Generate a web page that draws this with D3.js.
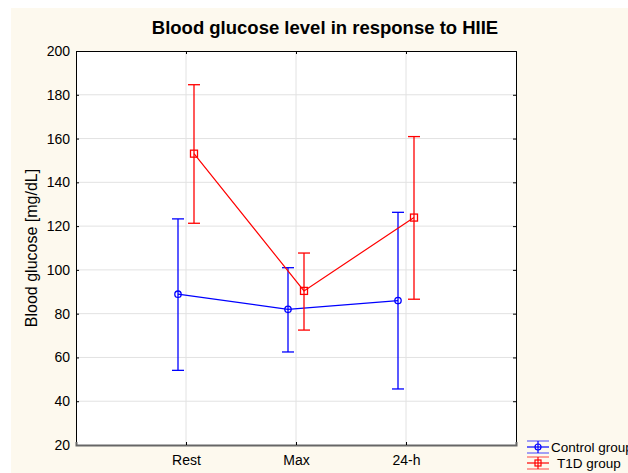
<!DOCTYPE html>
<html lang="en">
<head>
<meta charset="UTF-8">
<title>Blood glucose level in response to HIIE</title>
<script src="https://d3js.org/d3.v7.min.js"></script>
<style>
  body { margin: 0; background: #fff; }
  text { font-family: Arial, "Liberation Sans", sans-serif; fill: #000; }
</style>
</head>
<body>
<svg width="628" height="473"></svg>
<script>
// data
let categories = ["Rest", "Max", "24-h"]
let yTicks = [20, 40, 60, 80, 100, 120, 140, 160, 180, 200]

let controlMean = [88.9, 82.0, 86.0]
let controlLow = [54.1, 62.5, 45.6]
let controlHigh = [123.3, 101.0, 126.3]

let t1dMean = [153.1, 90.4, 123.9]
let t1dLow = [121.3, 72.5, 86.6]
let t1dHigh = [184.6, 107.7, 160.9]

let seriesNames = ["Control group", "T1D group"]

let svg = d3.select("svg")
let plotLeft = 76, plotRight = 516, plotTop = 51, plotBottom = 445

// cream page background
svg.append("rect").attr("x", 11).attr("y", 8).attr("width", 628).attr("height", 473).attr("fill", "#fdf9ee")
svg.append("rect").attr("x", plotLeft).attr("y", plotTop).attr("width", plotRight - plotLeft).attr("height", plotBottom - plotTop).attr("fill", "#fff")

let x = d3.scaleLinear().domain([0, 4]).range([plotLeft, plotRight])
let y = d3.scaleLinear().domain([20, 200]).range([plotBottom, plotTop])

// grid
let grid = svg.append("g").attr("stroke", "#e2e2e2").attr("stroke-width", 1)
grid.selectAll(".hg").data(yTicks.slice(1, -1)).enter().append("line")
    .attr("x1", plotLeft).attr("x2", plotRight)
    .attr("y1", d => y(d)).attr("y2", d => y(d))
grid.selectAll(".vg").data(categories).enter().append("line")
    .attr("x1", (d, i) => x(i + 1)).attr("x2", (d, i) => x(i + 1))
    .attr("y1", plotTop).attr("y2", plotBottom)

// axes
let yAxis = svg.append("g").attr("transform", `translate(${plotLeft},0)`)
    .call(d3.axisLeft(y).tickValues(yTicks).tickSize(-3).tickPadding(6))
let yAxisR = svg.append("g").attr("transform", `translate(${plotRight},0)`)
    .call(d3.axisRight(y).tickValues(yTicks).tickSize(-3).tickFormat(""))
let xAxis = svg.append("g").attr("transform", `translate(0,${plotBottom})`)
    .call(d3.axisBottom(x).tickValues([1, 2, 3]).tickSize(-3).tickPadding(10)
        .tickFormat(d => categories[d - 1]))
let xAxisT = svg.append("g").attr("transform", `translate(0,${plotTop})`)
    .call(d3.axisTop(x).tickValues([1, 2, 3]).tickSize(-3).tickFormat(""))
svg.selectAll(".tick text").style("font-size", "14px").style("font-family", "Arial, 'Liberation Sans', sans-serif")
svg.selectAll(".domain").attr("stroke", "#000")
xAxis.select(".domain").attr("stroke", "#666").attr("stroke-width", 2)

// series
function drawSeries(mean, low, high, color, dx, marker) {
    let g = svg.append("g")
    let pts = mean.map((m, i) => ({ x: x(i + 1) + dx, m: m, lo: low[i], hi: high[i] }))
    g.append("path").datum(pts)
        .attr("fill", "none").attr("stroke", color).attr("stroke-width", 1.2)
        .attr("d", d3.line().x(d => d.x).y(d => y(d.m)))
    let eb = g.selectAll(".eb").data(pts).enter().append("g").attr("stroke", color).attr("stroke-width", 1.3)
    eb.append("line").attr("x1", d => d.x).attr("x2", d => d.x).attr("y1", d => y(d.lo)).attr("y2", d => y(d.hi))
    eb.append("line").attr("x1", d => d.x - 6).attr("x2", d => d.x + 6).attr("y1", d => y(d.hi)).attr("y2", d => y(d.hi))
    eb.append("line").attr("x1", d => d.x - 6).attr("x2", d => d.x + 6).attr("y1", d => y(d.lo)).attr("y2", d => y(d.lo))
    if (marker == "circle") {
        g.selectAll(".mk").data(pts).enter().append("circle")
            .attr("cx", d => d.x).attr("cy", d => y(d.m)).attr("r", 3.2)
            .attr("fill", "none").attr("stroke", color).attr("stroke-width", 1.3)
    } else {
        g.selectAll(".mk").data(pts).enter().append("rect")
            .attr("x", d => d.x - 3.5).attr("y", d => y(d.m) - 3.5).attr("width", 7).attr("height", 7)
            .attr("fill", "none").attr("stroke", color).attr("stroke-width", 1.3)
    }
}
drawSeries(controlMean, controlLow, controlHigh, "#0000ff", -8, "circle")
drawSeries(t1dMean, t1dLow, t1dHigh, "#ff0000", 8, "square")

// title and y label
svg.append("text").attr("x", 325).attr("y", 34).attr("text-anchor", "middle")
    .style("font-size", "18.5px").style("font-weight", "bold").text("Blood glucose level in response to HIIE")
svg.append("text").attr("transform", `translate(37,${(plotTop + plotBottom) / 2}) rotate(-90)`)
    .attr("text-anchor", "middle").style("font-size", "16px").text("Blood glucose [mg/dL]")

// legend
let legend = svg.append("g")
let legendColors = ["#0000ff", "#ff0000"]
seriesNames.forEach(function (name, i) {
    let ly = 447 + i * 16
    let c = legendColors[i]
    let lg = legend.append("g").attr("stroke", c).attr("stroke-width", 1.2)
    lg.append("line").attr("x1", 527).attr("x2", 549).attr("y1", ly).attr("y2", ly)
    lg.append("line").attr("x1", 527).attr("x2", 549).attr("y1", ly - 6).attr("y2", ly - 6).attr("stroke-opacity", 0.6)
    lg.append("line").attr("x1", 527).attr("x2", 549).attr("y1", ly + 6).attr("y2", ly + 6).attr("stroke-opacity", 0.6)
    lg.append("line").attr("x1", 538).attr("x2", 538).attr("y1", ly - 6).attr("y2", ly + 6)
    if (i == 0) {
        lg.append("circle").attr("cx", 538).attr("cy", ly).attr("r", 3).attr("fill", "none")
    } else {
        lg.append("rect").attr("x", 535).attr("y", ly - 3).attr("width", 6).attr("height", 6).attr("fill", "none")
    }
    legend.append("text").attr("x", i == 0 ? 551 : 557).attr("y", ly + 5)
        .style("font-size", "13.5px").text(name)
})
</script>
</body>
</html>
